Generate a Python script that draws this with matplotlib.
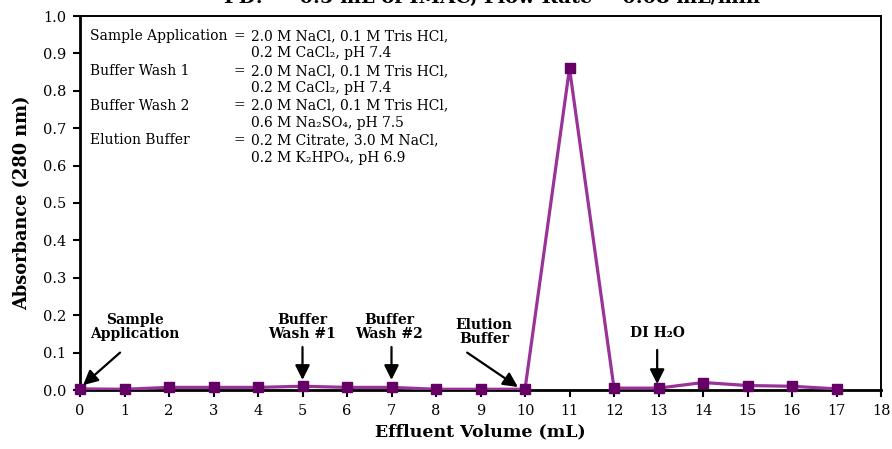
import matplotlib
matplotlib.use("Agg")
import matplotlib.pyplot as plt

# ---- data ----
volume_ml = [0, 1, 2, 3, 4, 5, 6, 7, 8, 9, 10, 11, 12, 13, 14, 15, 16, 17]
absorbance = [0.003, 0.002, 0.007, 0.007, 0.007, 0.010, 0.007, 0.007, 0.002, 0.002,
              0.002, 0.860, 0.005, 0.005, 0.020, 0.012, 0.010, 0.003]

title_text = "PD:  ~ 0.5 mL of IMAC, Flow Rate ~ 0.08 mL/min"
x_label = "Effluent Volume (mL)"
y_label = "Absorbance (280 nm)"
x_ticks = list(range(0, 19))
y_ticks = [0.0, 0.1, 0.2, 0.3, 0.4, 0.5, 0.6, 0.7, 0.8, 0.9, 1.0]

buffer_names = ["Sample Application", "Buffer Wash 1", "Buffer Wash 2", "Elution Buffer"]
buffer_compositions = [
    ("2.0 M NaCl, 0.1 M Tris HCl,", "0.2 M CaCl\u2082, pH 7.4"),
    ("2.0 M NaCl, 0.1 M Tris HCl,", "0.2 M CaCl\u2082, pH 7.4"),
    ("2.0 M NaCl, 0.1 M Tris HCl,", "0.6 M Na\u2082SO\u2084, pH 7.5"),
    ("0.2 M Citrate, 3.0 M NaCl,", "0.2 M K\u2082HPO\u2084, pH 6.9"),
]

# annotations: label, text position (x, y), arrow tail (x, y), arrow head (x, y)
annot_labels = ["Sample\nApplication", "Buffer\nWash #1", "Buffer\nWash #2", "Elution\nBuffer", "DI H\u2082O"]
annot_text_x = [1.24, 5.0, 6.94, 9.08, 12.97]
annot_text_y = [0.13, 0.13, 0.13, 0.117, 0.133]
annot_tail_x = [0.9, 5.0, 7.0, 8.7, 12.97]
annot_tail_y = [0.10, 0.115, 0.115, 0.10, 0.107]
annot_head_x = [0.07, 5.0, 7.0, 9.84, 12.97]
annot_head_y = [0.013, 0.027, 0.027, 0.008, 0.016]

SERIF = "DejaVu Serif"
plt.rcParams["font.family"] = SERIF

fig = plt.figure(figsize=(8.92, 4.49), dpi=100)
ax = fig.add_axes([80 / 892, 1 - 390 / 449, (881 - 80) / 892, (390 - 16) / 449])

ax.plot(volume_ml, absorbance, color="#993399", lw=2.3, zorder=3,
        solid_joinstyle="round")
ax.plot(volume_ml, absorbance, linestyle="none", marker="s", markersize=6.5,
        color="#660066", zorder=4, clip_on=False)

ax.set_xlim(0, 18)
ax.set_ylim(0, 1.0)
ax.set_xticks(x_ticks)
ax.set_yticks(y_ticks)
ax.set_xticklabels([str(t) for t in x_ticks])
ax.set_yticklabels([f"{t:.1f}" for t in y_ticks])
ax.tick_params(axis="both", direction="out", length=5, width=1.5, labelsize=10.5,
               colors="black", pad=5)
for side in ["left", "bottom"]:
    ax.spines[side].set_linewidth(2.0)
for side in ["top", "right"]:
    ax.spines[side].set_linewidth(1.4)

ax.set_xlabel(x_label, fontsize=12.5, fontweight="bold", labelpad=4)
ax.set_ylabel(y_label, fontsize=12.8, fontweight="bold", labelpad=8)

fig.text(0.552, 1 - 3 / 449, title_text, ha="center", va="baseline",
         fontsize=14, fontweight="bold")

# info text block
line_h = 17.4
y0 = 36
for i, (name, (l1, l2)) in enumerate(zip(buffer_names, buffer_compositions)):
    ya = y0 + 2 * i * line_h
    yb = ya + line_h
    fig.text(90 / 892, 1 - ya / 449, name, ha="left", va="center", fontsize=10)
    fig.text(234 / 892, 1 - ya / 449, "=", ha="left", va="center", fontsize=10)
    fig.text(251 / 892, 1 - ya / 449, l1, ha="left", va="center", fontsize=10)
    fig.text(251 / 892, 1 - yb / 449, l2, ha="left", va="center", fontsize=10)

for lab, tx, ty, sx, sy, hx, hy in zip(annot_labels, annot_text_x, annot_text_y,
                                        annot_tail_x, annot_tail_y,
                                        annot_head_x, annot_head_y):
    ax.text(tx, ty, lab, ha="center", va="bottom", fontsize=10, fontweight="bold",
            linespacing=1.05, zorder=5)
    ax.annotate("", xy=(hx, hy), xytext=(sx, sy),
                arrowprops=dict(arrowstyle="-|>", color="black", lw=1.6,
                                mutation_scale=22, shrinkA=0, shrinkB=0),
                zorder=6)

fig.savefig("out.png", dpi=100)
